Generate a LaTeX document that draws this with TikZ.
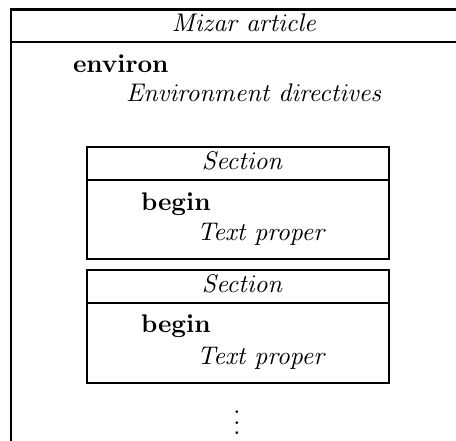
\documentclass[tikz,border=0pt]{standalone}
\font\artit=cmti10 at 25.5pt
\font\artbf=cmbx10 at 25.5pt
\font\artrm=cmr10 at 25.5pt
% vertical ellipsis with spacing to suit the large type
\newcommand{\artvdots}{\vbox{\baselineskip10.5pt\lineskiplimit0pt
  \hbox{\artrm.}\hbox{\artrm.}\hbox{\artrm.}}}
\tikzset{
  frame/.style={line width=2.6pt, line cap=butt},
  label/.style={inner sep=0pt, outer sep=0pt},
  title/.style={label, anchor=base, font=\artit},
  keyword/.style={label, anchor=base west, font=\artbf},
  body/.style={label, anchor=base west, font=\artit},
}
\begin{document}
\begin{tikzpicture}[x=1pt, y=-1pt]
  \useasboundingbox (0,0) rectangle (456,441);

  % article frame: open at the right and at the bottom
  \draw[frame] (456,9.3) -- (11,9.3) -- (11,441);
  \draw[frame] (11,42) -- (456,42);
  \node[title] (article) at (244,32) {Mizar article};

  \node[keyword] (environ) at (73,73) {environ};
  \node[body] (envdir) at (126,102) {Environment directives};

  % first section
  \draw[frame] (87,147) rectangle (389,259);
  \draw[frame] (87,180) -- (389,180);
  \node[title] (sec1) at (242,170) {Section};
  \node[keyword] (begin1) at (141,211) {begin};
  \node[body] (text1) at (197,241) {Text proper};

  % second section
  \draw[frame] (87,270) rectangle (389,383);
  \draw[frame] (87,303) -- (389,303);
  \node[title] (sec2) at (242,293) {Section};
  \node[keyword] (begin2) at (141,333) {begin};
  \node[body] (text2) at (197,364) {Text proper};

  % further sections
  \node[label, anchor=base] (more) at (237,435) {\artvdots};
\end{tikzpicture}
\end{document}
